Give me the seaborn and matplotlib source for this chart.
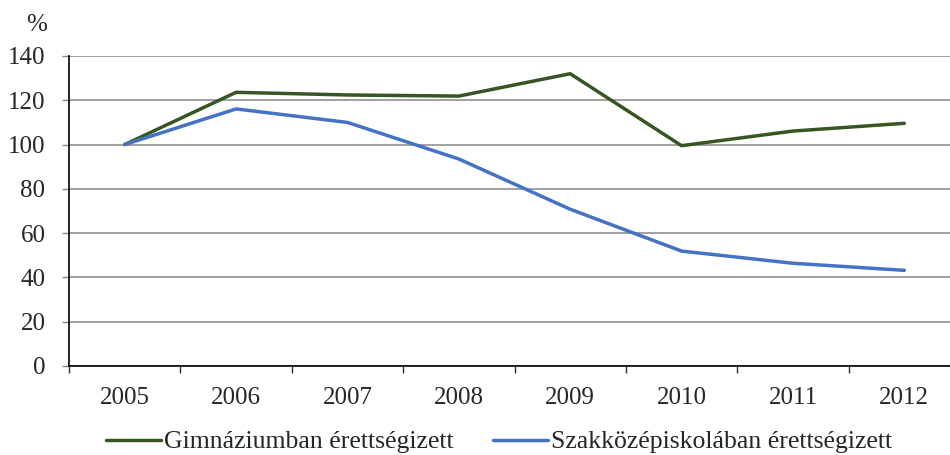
import matplotlib
matplotlib.use("Agg")
import matplotlib.pyplot as plt
import seaborn as sns
import pandas as pd
import numpy as np
from matplotlib.lines import Line2D

years = ["2005", "2006", "2007", "2008", "2009", "2010", "2011", "2012"]
gimnazium = [100, 123.6, 122.4, 121.9, 132.0, 99.5, 106.1, 109.6]
szakkozep = [100, 116.1, 110.0, 93.5, 70.8, 51.9, 46.4, 43.2]
series_names = ["Gimnáziumban érettségizett", "Szakközépiskolában érettségizett"]
colors = ["#375623", "#4472C4"]
yticks = [0, 20, 40, 60, 80, 100, 120, 140]

sns.set_style("white")
plt.rcParams["font.family"] = ["Liberation Serif", "DejaVu Serif"]

df = pd.DataFrame({
    "year": years * 2,
    "value": gimnazium + szakkozep,
    "series": [series_names[0]] * len(years) + [series_names[1]] * len(years),
})
df["x"] = list(range(len(years))) * 2

fig = plt.figure(figsize=(9.5, 4.55), dpi=100)
ax = fig.add_axes([69 / 950, 1 - 366 / 455, 891 / 950, 310 / 455])

sns.lineplot(data=df, x="x", y="value", hue="series", palette=colors,
             linewidth=2.5, ax=ax, legend=False, sort=False)

ax.set_xlim(-0.5, len(years) - 0.5)
ax.set_ylim(0, 140)
ax.set_yticks(yticks)
ax.set_yticklabels([str(v) for v in yticks], fontsize=18)
ax.yaxis.grid(True, color="#868686", linewidth=1.1)
ax.set_axisbelow(True)

ax.set_xticks(range(len(years)))
ax.set_xticklabels(years, fontsize=18)
ax.set_xticks(np.arange(-0.5, len(years) - 0.5 + 0.01, 1), minor=True)
ax.tick_params(axis="x", which="major", length=0, pad=15)
ax.tick_params(axis="x", which="minor", length=5, width=1, color="#333333", direction="out", bottom=True)
ax.tick_params(axis="y", length=5, width=1, color="#868686", direction="out", left=True, pad=12)

for s in ["top", "right"]:
    ax.spines[s].set_visible(False)
for s in ["left", "bottom"]:
    ax.spines[s].set_color("black")
    ax.spines[s].set_linewidth(1.2)

ax.set_xlabel("")
ax.set_ylabel("")
fig.text(37 / 950, 1 - 25 / 455, "%", fontsize=18, ha="center", va="center")

handles = [Line2D([0], [0], color=c, linewidth=2.5) for c in colors]
fig.legend(handles, series_names, loc="center", bbox_to_anchor=(499 / 950, 1 - 442 / 455),
           ncol=2, frameon=False, fontsize=18.5, handlelength=2.15, handletextpad=0.1,
           columnspacing=1.55, borderpad=0, borderaxespad=0)

fig.savefig("out.png", dpi=100)
